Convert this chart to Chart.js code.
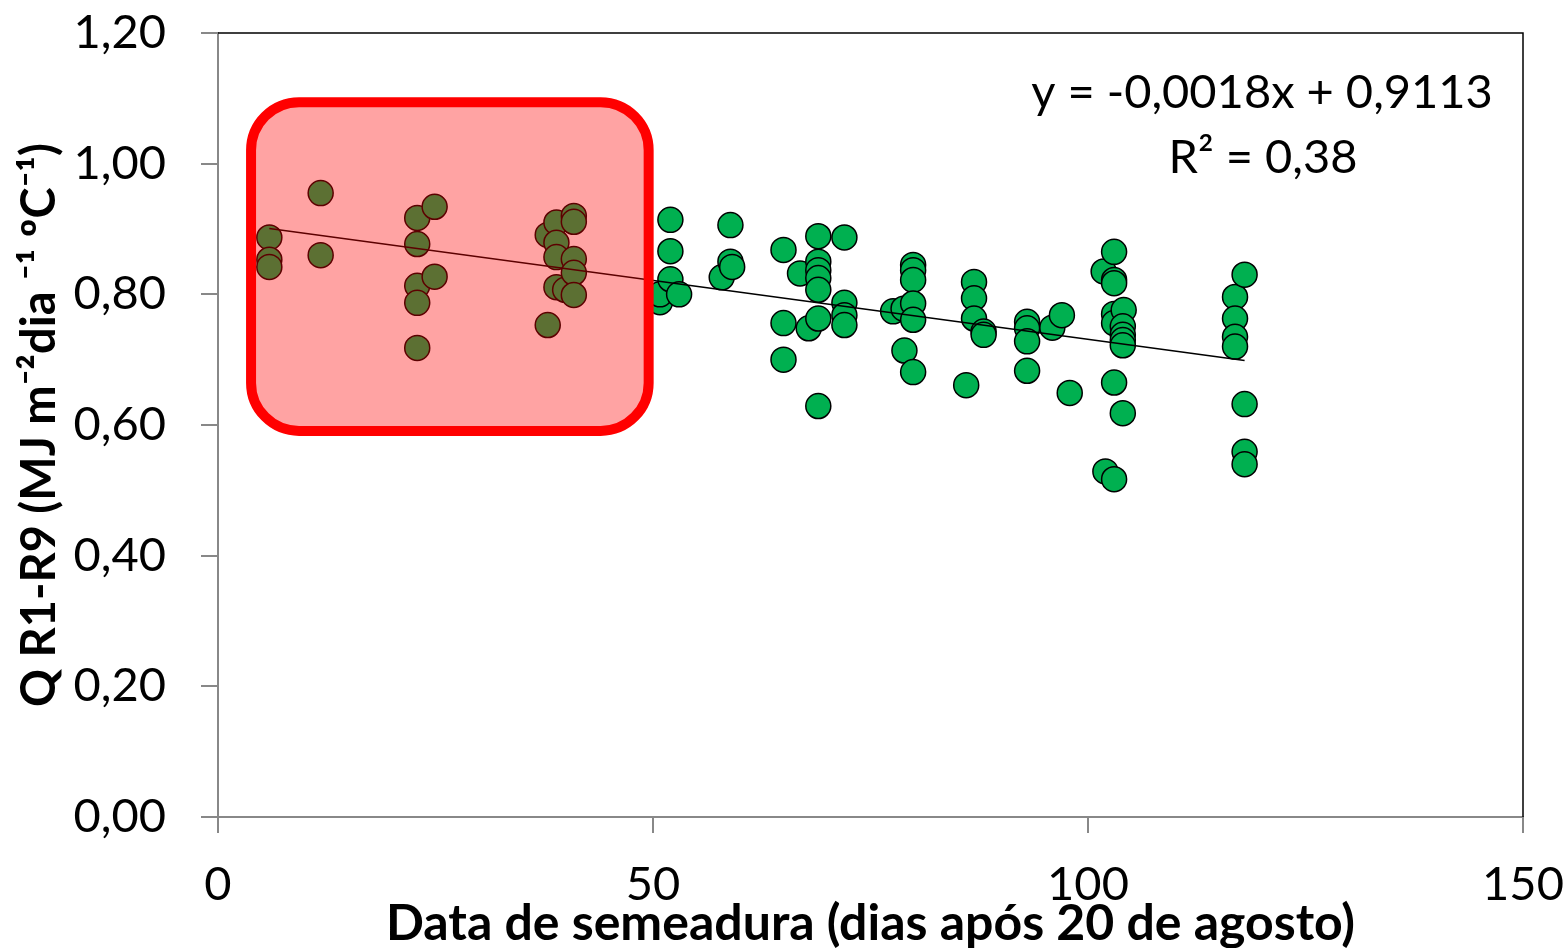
<!DOCTYPE html>
<html>
<head>
<meta charset="utf-8">
<script src="https://cdn.jsdelivr.net/npm/chart.js@4/dist/chart.umd.min.js"></script>
<style>
  html, body { margin: 0; padding: 0; background: #fff; }
  #wrap { width: 1568px; height: 948px; }
</style>
</head>
<body>
<div id="wrap"><canvas id="myChart" width="1568" height="948"></canvas></div>
<script>
// dias apos 20 de agosto / Q R1-R9
var diasX = [
    5.9, 5.9, 5.9, 11.8, 11.8,
    22.9, 22.9, 22.9, 22.9, 22.9, 24.9, 24.9,
    37.9, 37.9, 38.9, 38.9, 38.9, 38.9, 39.9,
    40.9, 40.9, 40.9, 40.9, 40.9,
    50.8, 50.8, 52, 52, 52, 53, 57.9, 58.9, 58.9, 59.1,
    65, 65, 65, 66.9, 67.9,
    69, 69, 69, 69, 69, 69, 69,
    72, 72, 72, 72,
    77.6, 78.8, 78.9, 79.9, 79.9, 79.9, 79.9, 79.9, 79.9,
    86, 86.9, 86.9, 86.9, 88, 88,
    93, 93, 93, 93, 95.9, 97, 97.9,
    101.8, 102, 103, 103, 103, 103, 103, 103, 103,
    104.1, 104, 104, 104, 104, 104,
    116.9, 116.9, 116.9, 116.9, 118, 118, 118, 118
];
var qValores = [
    0.887, 0.853, 0.842, 0.955, 0.860,
    0.917, 0.877, 0.813, 0.787, 0.718, 0.934, 0.827,
    0.891, 0.753, 0.910, 0.879, 0.857, 0.811, 0.807,
    0.920, 0.911, 0.854, 0.833, 0.799,
    0.788, 0.800, 0.914, 0.866, 0.823, 0.800, 0.826, 0.906, 0.850, 0.842,
    0.868, 0.756, 0.700, 0.832, 0.748,
    0.889, 0.850, 0.837, 0.825, 0.807, 0.763, 0.629,
    0.887, 0.787, 0.768, 0.753,
    0.774, 0.778, 0.714, 0.845, 0.837, 0.822, 0.786, 0.761, 0.681,
    0.661, 0.819, 0.794, 0.763, 0.743, 0.738,
    0.758, 0.748, 0.728, 0.683, 0.749, 0.768, 0.649,
    0.835, 0.529, 0.865, 0.822, 0.817, 0.770, 0.756, 0.665, 0.517,
    0.776, 0.751, 0.738, 0.730, 0.722, 0.618,
    0.796, 0.763, 0.735, 0.720, 0.830, 0.632, 0.559, 0.540
];
// linha de tendencia (equacao do grafico)
var tendencia = [-0.0018, 0.9113];
var equacao = ["y = -0,0018x + 0,9113", "R² = 0,38"];
// caixa vermelha (unidades dos eixos): x0, x1, y0, y1
var caixaX = [3.8, 49.5];
var caixaY = [0.591, 1.094];
var ticksX = [0, 50, 100, 150];

var pontos = diasX.map(function(x, i) { return {x: x, y: qValores[i]}; });
var xMin = Math.min.apply(null, diasX), xMax = Math.max.apply(null, diasX);
var linha = [xMin, xMax].map(function(x) { return {x: x, y: tendencia[0] * x + tendencia[1]}; });

var fonte = "Lato, 'Open Sans', sans-serif";

var extras = {
    id: 'extras',
    afterDatasetsDraw: function(chart) {
        var c = chart.ctx, a = chart.chartArea;
        var sx = chart.scales.x, sy = chart.scales.y;
        // moldura superior e direita
        c.save();
        c.strokeStyle = '#000';
        c.lineWidth = 1.5;
        c.beginPath();
        c.moveTo(a.left, a.top);
        c.lineTo(a.right, a.top);
        c.lineTo(a.right, a.bottom);
        c.stroke();
        // caixa vermelha
        var x0 = sx.getPixelForValue(caixaX[0]), x1 = sx.getPixelForValue(caixaX[1]);
        var y0 = sy.getPixelForValue(caixaY[1]), y1 = sy.getPixelForValue(caixaY[0]);
        c.beginPath();
        c.roundRect(x0, y0, x1 - x0, y1 - y0, 48);
        c.fillStyle = 'rgba(255,0,0,0.36)';
        c.fill();
        c.lineWidth = 10;
        c.strokeStyle = '#ff0000';
        c.stroke();
        // equacao
        c.fillStyle = '#000';
        c.font = '47px ' + fonte;
        c.textAlign = 'center';
        c.textBaseline = 'middle';
        c.fillText(equacao[0], a.right - 261, 93);
        c.fillText(equacao[1], a.right - 260, 158);
        c.restore();
    }
};

var ctx = document.getElementById('myChart');
var grafico = new Chart(ctx, {
    type: 'scatter',
    data: {
        datasets: [
            {
                type: 'line',
                data: linha,
                borderColor: '#000',
                borderWidth: 1.5,
                pointRadius: 0,
                fill: false
            },
            {
                data: pontos,
                backgroundColor: '#00b050',
                borderColor: '#000',
                borderWidth: 1.5,
                pointRadius: 12.5,
                pointHoverRadius: 12.5
            }
        ]
    },
    options: {
        responsive: false,
        animation: false,
        layout: { padding: { left: 0, right: 45, top: 33, bottom: 0 } },
        plugins: { legend: { display: false }, tooltip: { enabled: false } },
        scales: {
            x: {
                type: 'linear',
                min: 0, max: 150,
                afterBuildTicks: function(s) { s.ticks = ticksX.map(function(v) { return {value: v}; }); },
                afterFit: function(s) {
                    s.height = 131;
                    s.paddingLeft = 0; s.paddingRight = 0;
                },
                ticks: {
                    color: '#000',
                    font: { family: fonte, size: 47 },
                    padding: 24,
                    maxRotation: 0
                },
                grid: { drawOnChartArea: false, color: '#888', tickLength: 16, lineWidth: 2 },
                border: { color: '#888', width: 2 },
                title: {
                    display: true,
                    text: 'Data de semeadura (dias após 20 de agosto)',
                    color: '#000',
                    font: { family: fonte, size: 50, weight: 'bold', lineHeight: 0.95 },
                    padding: { top: 0, bottom: 0 }
                }
            },
            y: {
                min: 0, max: 1.2,
                afterFit: function(s) {
                    s.width = 218;
                    s.paddingTop = 0; s.paddingBottom = 0;
                },
                ticks: {
                    stepSize: 0.2,
                    color: '#000',
                    font: { family: fonte, size: 47 },
                    padding: 35,
                    callback: function(v) { return v.toFixed(2).replace('.', ','); }
                },
                grid: { drawOnChartArea: false, color: '#888', tickLength: 17, lineWidth: 2 },
                border: { color: '#888', width: 2 },
                title: {
                    display: true,
                    text: 'Q R1-R9 (MJ m⁻²dia ⁻¹ ºC⁻¹)',
                    color: '#000',
                    font: { family: fonte, size: 47, weight: 'bold' },
                    padding: { top: 12, bottom: 0 }
                }
            }
        }
    },
    plugins: [extras]
});
</script>
</body>
</html>
